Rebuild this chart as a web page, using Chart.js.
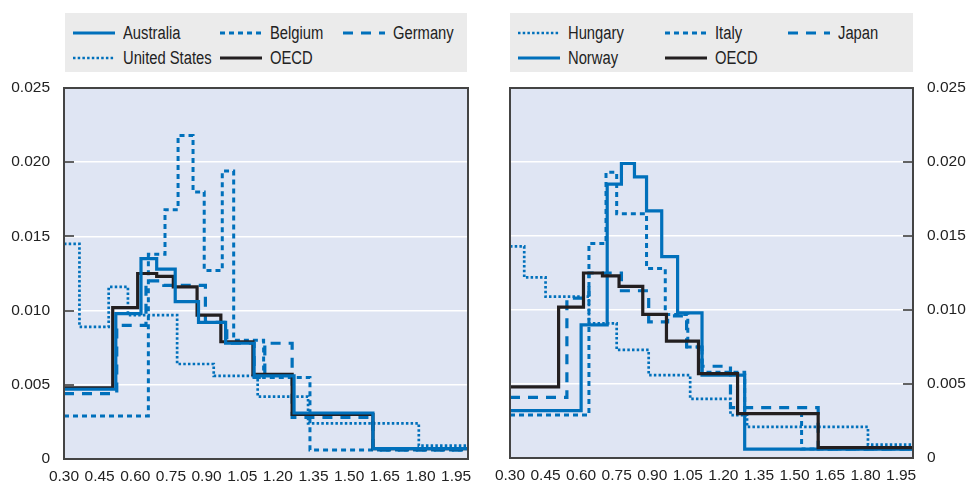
<!DOCTYPE html>
<html>
<head>
<meta charset="utf-8">
<script src="https://cdn.jsdelivr.net/npm/chart.js@4"></script>
<style>
  html, body { margin:0; padding:0; background:#fff; }
  body { width:966px; height:487px; position:relative; overflow:hidden;
         font-family:"Liberation Sans", Arial, sans-serif; }
  canvas { position:absolute; top:0; }
  .legend { position:absolute; top:13px; height:59px; background:#ebebeb; }
  .item { position:absolute; height:20px; display:flex; align-items:center; }
  .item svg { display:block; }
  .item span { display:inline-block; font-size:18px; color:#222; margin-left:8px; white-space:nowrap;
               transform:scaleX(0.82); transform-origin:left center; }
</style>
</head>
<body>
<div id="legL" class="legend" style="left:65px;width:402px;"></div>
<div id="legR" class="legend" style="left:510px;width:403px;"></div>
<canvas id="cL" width="483" height="487" style="left:0;"></canvas>
<canvas id="cR" width="483" height="487" style="left:483px;"></canvas>
<script>
// ---------- axis ticks ----------
const xTicks = [0.30,0.45,0.60,0.75,0.90,1.05,1.20,1.35,1.50,1.65,1.80,1.95];
const yTicks = [0,0.005,0.010,0.015,0.020,0.025];
const X_MIN = 0.30, X_MAX = 2.0;

// ---------- left panel ----------
const oecdX      = [0.30,0.505,0.61,0.69,0.76,0.86,0.96,1.095,1.26,1.60];
const oecdY      = [0.0048,0.0102,0.0125,0.0123,0.0116,0.0097,0.0079,0.0057,0.0030,0.0007];

const australiaX = [0.30,0.518,0.624,0.69,0.768,0.866,0.98,1.10,1.268,1.60];
const australiaY = [0.0047,0.0098,0.0135,0.0128,0.0106,0.0092,0.0078,0.0056,0.0031,0.0007];

const belgiumX   = [0.30,0.655,0.725,0.78,0.843,0.89,0.966,1.014,1.14,1.335];
const belgiumY   = [0.0029,0.0138,0.0168,0.0218,0.0180,0.0127,0.0194,0.0080,0.0055,0.0006];

const germanyX   = [0.30,0.522,0.645,0.72,0.895,0.985,1.10,1.145,1.26,1.60];
const germanyY   = [0.0044,0.0090,0.0120,0.0117,0.0092,0.0078,0.0055,0.0078,0.0028,0.0006];

const usX        = [0.30,0.365,0.488,0.569,0.776,0.93,1.115,1.327,1.793];
const usY        = [0.0145,0.0089,0.0116,0.0097,0.0064,0.0056,0.0042,0.0024,0.0009];

// ---------- right panel ----------
const hungaryX   = [0.30,0.36,0.45,0.633,0.75,0.885,1.06,1.23,1.30,1.81];
const hungaryY   = [0.0143,0.0122,0.0109,0.0091,0.0073,0.0056,0.0040,0.0029,0.0021,0.0009];

const italyX     = [0.30,0.633,0.705,0.75,0.876,0.955,1.05,1.11,1.29,1.53];
const italyY     = [0.0029,0.0145,0.0193,0.0165,0.0128,0.0097,0.0075,0.0058,0.0030,0.0006];

const japanX     = [0.30,0.54,0.633,0.77,0.885,0.965,1.045,1.11,1.23,1.60];
const japanY     = [0.0041,0.0108,0.0125,0.0113,0.0092,0.0096,0.0075,0.0062,0.0034,0.0006];

const norwayX    = [0.30,0.60,0.71,0.77,0.825,0.876,0.94,1.007,1.11,1.29];
const norwayY    = [0.0032,0.0090,0.0185,0.0199,0.0190,0.0167,0.0136,0.0098,0.0056,0.0006];

// ---------- styles ----------
const BLUE = '#0070bb', BLACK = '#231f20';
const FONT = '"Liberation Sans", Arial, sans-serif';
const TXT = '#222';
const STYLE = {
  solid:  {color:BLUE,  width:3.2, dash:[]},
  short:  {color:BLUE,  width:3,   dash:[5,4]},
  long:   {color:BLUE,  width:3.2, dash:[10,8]},
  dot:    {color:BLUE,  width:2.7, dash:[2.5,2.2]},
  oecd:   {color:BLACK, width:3.2, dash:[]}
};

function steps(xs, ys){
  const pts = xs.map((x,i)=>({x:x, y:ys[i]}));
  pts.push({x:X_MAX, y:ys[ys.length-1]});
  return pts;
}
function ds(label, xs, ys, st, order){
  const s = STYLE[st];
  return {label, data:steps(xs,ys), stepped:'before', borderColor:s.color,
          borderWidth:s.width, borderDash:s.dash, pointRadius:0, fill:false,
          order:order, _style:st, borderCapStyle:'butt', borderJoinStyle:'miter'};
}

const leftSets = [
  ds('Australia', australiaX, australiaY, 'solid', 1),
  ds('Belgium', belgiumX, belgiumY, 'short', 3),
  ds('Germany', germanyX, germanyY, 'long', 4),
  ds('United States', usX, usY, 'dot', 5),
  ds('OECD', oecdX, oecdY, 'oecd', 2)
];
const rightSets = [
  ds('Hungary', hungaryX, hungaryY, 'dot', 5),
  ds('Italy', italyX, italyY, 'short', 3),
  ds('Japan', japanX, japanY, 'long', 4),
  ds('Norway', norwayX, norwayY, 'solid', 2),
  ds('OECD', oecdX, oecdY, 'oecd', 1)
];

const framePlugin = {
  id:'frame',
  beforeDraw(chart){
    const a = chart.chartArea, ctx = chart.ctx;
    ctx.save(); ctx.fillStyle = '#dfe5f3';
    ctx.fillRect(a.left, a.top, a.right-a.left, a.bottom-a.top); ctx.restore();
  },
  afterDatasetsDraw(chart, args, opts){
    const a = chart.chartArea, ctx = chart.ctx, y = chart.scales.y;
    ctx.save();
    ctx.strokeStyle = '#3d3d3d'; ctx.lineWidth = 1.6;
    y.ticks.forEach(t=>{
      const py = Math.round(y.getPixelForValue(t.value));
      ctx.beginPath();
      if (opts.side === 'right'){ ctx.moveTo(a.right, py); ctx.lineTo(a.right-10, py); }
      else { ctx.moveTo(a.left, py); ctx.lineTo(a.left+10, py); }
      ctx.stroke();
    });
    ctx.lineWidth = 2; ctx.strokeStyle = '#444';
    ctx.strokeRect(a.left, a.top, a.right-a.left, a.bottom-a.top);
    ctx.restore();
  }
};

function makeChart(id, sets, side, pad, xH){
  return new Chart(document.getElementById(id), {
    type:'line',
    data:{datasets:sets},
    options:{
      responsive:false, animation:false, devicePixelRatio:1,
      layout:{padding:pad},
      plugins:{legend:{display:false}, tooltip:{enabled:false}, frame:{side:side}},
      scales:{
        x:{type:'linear', min:X_MIN, max:X_MAX,
           afterBuildTicks:s=>{ s.ticks = xTicks.map(v=>({value:v})); },
           afterFit:s=>{ s.height = xH; },
           ticks:{autoSkip:false, maxRotation:0, padding:8, color:TXT,
                  font:{family:FONT, size:15.5}, callback:v=>Number(v).toFixed(2)},
           grid:{display:false, drawTicks:false}, border:{display:false}},
        y:{type:'linear', position:side, min:0, max:0.025,
           afterBuildTicks:s=>{ s.ticks = yTicks.map(v=>({value:v})); },
           afterFit:s=>{ s.width = side==='left' ? 64 : 53; },
           ticks:{padding:14, color:TXT, font:{family:FONT, size:15.5},
                  callback:v=> v===0 ? '0' : Number(v).toFixed(3)},
           grid:{color:'#ffffff', lineWidth:1.5, drawTicks:false}, border:{display:false}}
      }
    },
    plugins:[framePlugin]
  });
}

makeChart('cL', leftSets, 'left', {top:88, right:15, left:0, bottom:0}, 28);
makeChart('cR', rightSets, 'right', {top:88, right:0, left:27, bottom:0}, 29);

// ---------- legends ----------
function buildLegend(divId, sets, layout){
  const div = document.getElementById(divId);
  sets.forEach((d,i)=>{
    const s = STYLE[d._style];
    const [cx, cy] = layout[i];
    const it = document.createElement('div');
    it.className = 'item';
    it.style.left = cx + 'px'; it.style.top = (cy-10) + 'px';
    it.innerHTML = '<svg width="42" height="8"><line x1="0" y1="4" x2="42" y2="4" stroke="'+s.color+
      '" stroke-width="'+s.width+'" stroke-dasharray="'+(s.dash.length? s.dash.join(' '):'none')+'"/></svg><span>'+d.label+'</span>';
    div.appendChild(it);
  });
}
const legLayout = [[8,20],[155,20],[278,20],[8,45],[155,45]];
buildLegend('legL', leftSets, legLayout);
buildLegend('legR', rightSets, legLayout);
</script>
</body>
</html>
